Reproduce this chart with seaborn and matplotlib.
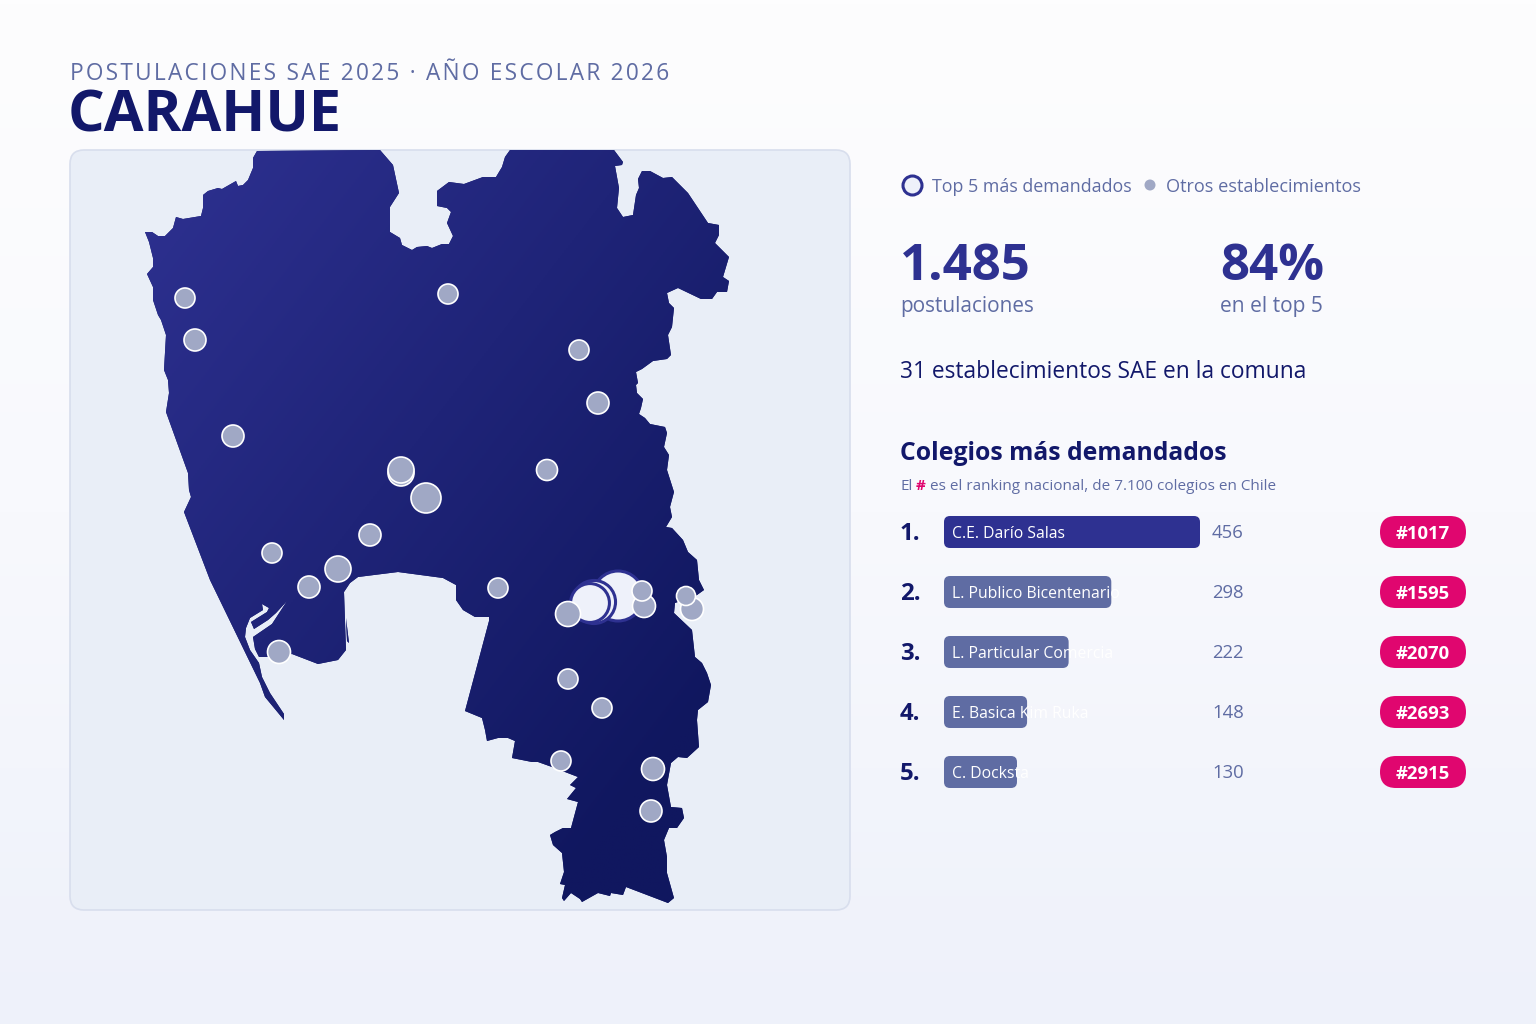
import numpy as np
import matplotlib
matplotlib.use("Agg")
import matplotlib.pyplot as plt
from matplotlib.colors import LinearSegmentedColormap
from matplotlib.patches import FancyBboxPatch, PathPatch
from matplotlib.path import Path
import seaborn as sns

# contorno de la comuna
comuna_x = [253, 257, 380, 393, 399, 390, 390, 400, 402, 412, 417, 427, 432, 442, 449, 453, 447, 451, 447, 437,
            437, 449, 464, 483, 496, 502, 505, 510, 614, 623, 622, 615, 619, 617, 623, 633, 636, 639, 638, 642,
            650, 663, 672, 688, 708, 719, 719, 715, 729, 723, 729, 727, 717, 712, 701, 678, 667, 669, 674,
            672, 668, 671, 667, 653, 642, 636, 638, 636, 637, 643, 641, 639, 645, 650, 665, 667, 664, 669,
            667, 674, 670, 672, 666, 672, 683, 688, 697, 699, 704, 697, 675, 674, 692, 695, 702, 707, 711, 708,
            698, 697, 699, 687, 678, 671, 667, 671, 682, 684, 677, 669, 664, 667, 667, 674, 668, 626, 623, 611,
            610, 598, 582, 580, 571, 564, 562, 565, 560, 564, 562, 553, 550, 555, 563, 571, 578, 567, 576, 570,
            578, 552, 538, 532, 512, 515, 508, 498, 487, 485, 482, 465, 489, 489, 475, 463, 456, 456, 443, 398,
            358, 350, 344, 346, 338, 318, 292, 268, 259, 255, 253, 272, 287, 276, 268, 254, 251, 267, 269, 262,
            263, 250, 246, 245, 250, 259, 262, 270, 284, 284, 265, 260, 210, 184, 191, 189, 188, 166, 169, 168,
            164, 166, 161, 158, 153, 153, 147, 153, 153, 149, 145, 152, 158, 165, 173, 176, 183, 201, 203, 203,
            208, 218, 222, 236, 238, 243, 248, 253]
comuna_y = [158, 151, 150, 165, 193, 207, 232, 238, 245, 250, 247, 246, 248, 244, 244, 236, 223, 212, 208, 206,
            191, 182, 184, 177, 177, 167, 157, 150, 150, 162, 165, 166, 188, 208, 217, 215, 195, 188, 179, 171,
            171, 178, 177, 193, 223, 225, 235, 243, 257, 277, 281, 292, 292, 299, 299, 288, 293, 303, 308,
            327, 335, 355, 359, 361, 369, 372, 383, 385, 393, 399, 408, 414, 418, 424, 427, 433, 447, 455,
            470, 492, 507, 517, 527, 528, 540, 552, 560, 580, 590, 595, 603, 613, 630, 657, 663, 673, 685, 702,
            710, 720, 747, 758, 757, 763, 785, 807, 808, 818, 828, 828, 840, 857, 873, 898, 903, 887, 895, 893,
            896, 893, 902, 899, 893, 901, 898, 885, 884, 872, 853, 845, 835, 832, 828, 828, 802, 799, 788, 785,
            777, 767, 762, 762, 758, 741, 738, 738, 741, 730, 718, 711, 621, 617, 617, 610, 600, 585, 578, 572,
            577, 583, 592, 650, 660, 664, 654, 657, 657, 649, 637, 624, 601, 613, 620, 629, 622, 612, 608, 604,
            610, 618, 628, 637, 650, 663, 677, 693, 714, 720, 697, 683, 580, 512, 497, 490, 473, 412, 393, 380,
            370, 335, 320, 315, 300, 287, 274, 267, 258, 242, 232, 232, 236, 236, 228, 217, 219, 216, 208, 195,
            191, 188, 189, 181, 186, 185, 180, 168]
islote_x = [346, 349, 347]
islote_y = [618, 643, 641]

# establecimientos
otros_x = [185, 195, 448, 579, 598, 233, 547, 401, 401, 426, 370, 272, 338, 309, 498, 644, 568, 642, 692, 686, 279, 568, 602, 561, 653, 651]
otros_y = [298, 340, 294, 350, 403, 436, 470, 473, 470, 498, 535, 553, 569, 587, 588, 606, 614, 591, 609, 596, 652, 679, 708, 761, 769, 811]
otros_r = [10, 11, 10, 10, 11, 11, 10.5, 13, 13, 15, 11, 10, 13, 11, 10, 11.5, 12.5, 10, 11.5, 9.5, 11.5, 10, 10, 10, 11.5, 11]

nombres = ["C.E. Darío Salas", "L. Publico Bicentenario", "L. Particular Comercia", "E. Basica Kim Ruka", "C. Docksta"]
postulaciones = [456, 298, 222, 148, 130]
ranking = ["#1017", "#1595", "#2070", "#2693", "#2915"]
top_x = [618, 594, 590, 591, 590]
top_y = [596, 602, 603, 603, 602]

AZUL = "#2e3191"
OSCURO = "#12186a"
MEDIO = "#5f6ca3"
GRIS = "#a0a8c5"
MAGENTA = "#e0066f"

sns.set_theme(style="white")
plt.rcParams["font.family"] = ["Open Sans", "DejaVu Sans"]


def px(n):
    return n * 0.72


fig = plt.figure(figsize=(15.36, 10.24), dpi=100)
ax = fig.add_axes([0, 0, 1, 1])
ax.set_axis_off()

# fondo degradado
fondo = LinearSegmentedColormap.from_list("fondo", ["#fdfdfe", "#f8f9fd", "#eef1fa"])
ax.imshow(np.linspace(0, 1, 256).reshape(-1, 1), cmap=fondo, extent=(0, 1536, 1024, 0), aspect="auto", zorder=0)

# panel del mapa
ax.add_patch(FancyBboxPatch((70, 150), 780, 760, boxstyle="round,pad=0,rounding_size=14",
                            fc="#e9eef7", ec="#d8deed", lw=1.2, zorder=1))

# mapa con degradado recortado
vertices = list(zip(comuna_x, comuna_y)) + [(comuna_x[0], comuna_y[0])]
codigos = [Path.MOVETO] + [Path.LINETO] * (len(comuna_x) - 1) + [Path.CLOSEPOLY]
vertices += list(zip(islote_x, islote_y)) + [(islote_x[0], islote_y[0])]
codigos += [Path.MOVETO, Path.LINETO, Path.LINETO, Path.CLOSEPOLY]
silueta = PathPatch(Path(vertices, codigos), fc="#1c2274", ec="none", transform=ax.transData, zorder=2)
ax.add_patch(silueta)

gx, gy = np.meshgrid(np.linspace(0, 1, 300), np.linspace(0, 1, 300))
mapa_cmap = LinearSegmentedColormap.from_list("mapa", [(0, AZUL), (0.85, "#10175f"), (1, "#10175f")])
im = ax.imshow((gx + gy) / 2, cmap=mapa_cmap, vmin=0, vmax=1, extent=(145, 730, 903, 150), aspect="auto", zorder=3)
im.set_clip_path(silueta)

# puntos: otros establecimientos y top 5
s_otros = [(2 * px(r)) ** 2 for r in otros_r]
sns.scatterplot(x=otros_x, y=otros_y, s=s_otros, color=GRIS, edgecolor="white", linewidth=1.2, ax=ax, zorder=6)

orden = [4, 3, 0, 1, 2]
radios = [25 * (v / postulaciones[0]) ** 0.35 for v in postulaciones]
sns.scatterplot(x=[top_x[i] for i in orden], y=[top_y[i] for i in orden],
                s=[(2 * px(radios[i])) ** 2 for i in orden],
                color="#eef1fa", edgecolor=AZUL, linewidth=2.2, ax=ax, zorder=5)

# encabezado
ax.text(70, 80, "\u200a".join("POSTULACIONES SAE 2025 · AÑO ESCOLAR 2026"), fontsize=px(22.6), color=MEDIO)
ax.text(68, 132, "CARAHUE", fontsize=px(57.6), fontweight="bold", color=OSCURO)

# leyenda
sns.scatterplot(x=[912], y=[185], s=(2 * px(9.5)) ** 2, color="#eef1fa", edgecolor=AZUL, linewidth=2.2, ax=ax, zorder=5)
sns.scatterplot(x=[1150], y=[185], s=(2 * px(5.5)) ** 2, color=GRIS, edgecolor="none", ax=ax, zorder=5)
ax.text(932, 192, "Top 5 más demandados", fontsize=px(17.9), color=MEDIO)
ax.text(1166, 192, "Otros establecimientos", fontsize=px(18.1), color=MEDIO)

# indicadores
ax.text(900, 280, "1.485", fontsize=px(51), fontweight="bold", color=AZUL)
ax.text(1220, 280, "84%", fontsize=px(51), fontweight="bold", color=AZUL)
ax.text(900, 312, "postulaciones", fontsize=px(20.8), color=MEDIO)
ax.text(1220, 312, "en el top 5", fontsize=px(21), color=MEDIO)
ax.text(900, 378, "31 establecimientos SAE en la comuna", fontsize=px(22.7), color=OSCURO)

ax.text(900, 460, "Colegios más demandados", fontsize=px(24.7), fontweight="bold", color=OSCURO)
ax.text(900, 490, "El", fontsize=px(15.2), color=MEDIO)
ax.text(916, 490, "#", fontsize=px(15.2), fontweight="bold", color=MAGENTA)
ax.text(930, 490, "es el ranking nacional, de 7.100 colegios en Chile", fontsize=px(15.2), color=MEDIO)

# pastillas con el ranking
for i, etiqueta in enumerate(ranking):
    yc = 532 + 60 * i
    ax.add_patch(FancyBboxPatch((1380, yc - 16), 86, 32, boxstyle="round,pad=0,rounding_size=16",
                                fc=MAGENTA, ec="none", zorder=4))
    ax.text(1423, yc + 7, etiqueta, fontsize=px(18.5), fontweight="bold", color="white", ha="center", zorder=5)

ax.set_xlim(0, 1536)
ax.set_ylim(1024, 0)

# barras
barras = fig.add_axes([944 / 1536, 1 - 802 / 1024, 256 / 1536, 300 / 1024])
barras.patch.set_alpha(0)
colores = [AZUL, MEDIO, MEDIO, MEDIO, MEDIO]
sns.barplot(x=postulaciones, y=nombres, hue=nombres, palette=colores, orient="h", width=32 / 60,
            saturation=1, legend=False, ax=barras)
barras.set_xlim(0, postulaciones[0])
barras.set_ylim(4.5, -0.5)
barras.set_axis_off()

aspecto = (1 / 60) / (postulaciones[0] / 256)
for rect in list(barras.patches):
    x, y = rect.get_x(), rect.get_y()
    w, h = rect.get_width(), rect.get_height()
    color = rect.get_facecolor()
    rect.remove()
    barras.add_patch(FancyBboxPatch((x, y), w, h, boxstyle=f"round,pad=0,rounding_size={6 * postulaciones[0] / 256}",
                                    mutation_aspect=aspecto, fc=color, ec="none"))

for i, nombre in enumerate(nombres):
    barras.annotate(nombre, xy=(0, i), xytext=(px(8), px(-6)), textcoords="offset points", va="baseline",
                    fontsize=px(15.8), color="white", annotation_clip=False)
    barras.annotate(f"{i + 1}.", xy=(0, i), xytext=(px(-44), px(-8)), textcoords="offset points", va="baseline",
                    fontsize=px(24), fontweight="bold", color=OSCURO, annotation_clip=False)
    barras.annotate(str(postulaciones[i]), xy=(0, i), xytext=(px(268), px(-6)), textcoords="offset points",
                    va="baseline", fontsize=px(18.5), color=MEDIO, annotation_clip=False)

fig.savefig("out.png", dpi=100)
